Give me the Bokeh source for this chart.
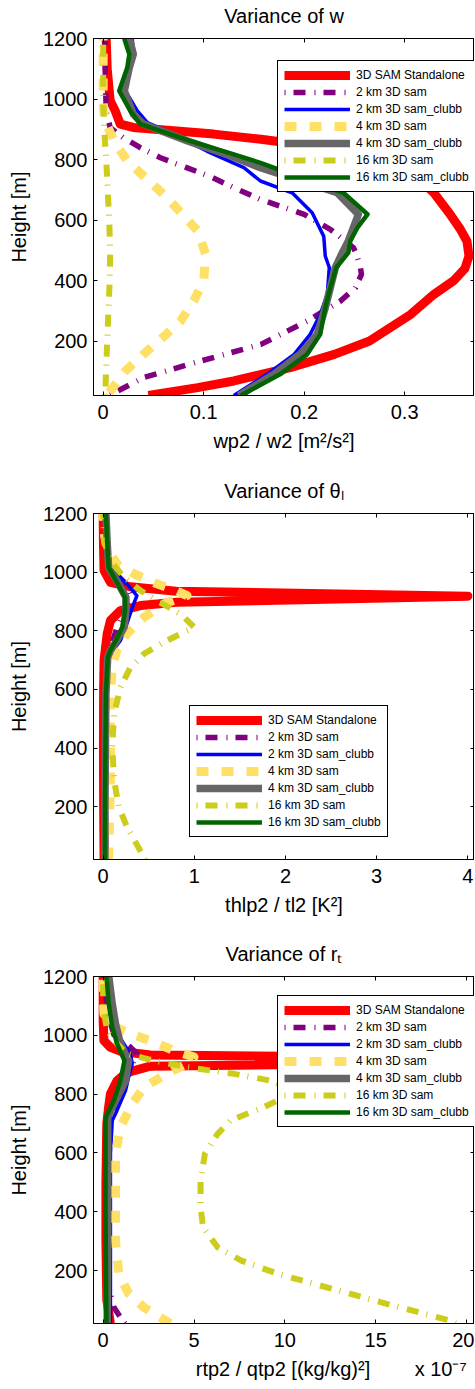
from bokeh.plotting import figure
from bokeh.models import LinearAxis, FixedTicker, Range1d, Legend, LegendItem
from bokeh.layouts import column
from bokeh.embed import file_html
from bokeh.resources import INLINE

FONT = "Liberation Sans"

series_labels = ["3D SAM Standalone", "2 km 3D sam", "2 km 3D sam_clubb",
                 "4 km 3D sam", "4 km 3D sam_clubb", "16 km 3D sam",
                 "16 km 3D sam_clubb"]

# ---------------- Panel 1: wp2 / w2 [m2/s2] ----------------
wp2_sam_z = [20, 46, 68, 112, 156, 200, 288, 354, 400, 440, 481, 530, 569, 620, 690, 750, 800, 840, 867, 884, 895, 906, 917, 961, 994, 1100, 1200]
wp2_sam = [0.045, 0.094, 0.13, 0.186, 0.23, 0.265, 0.306, 0.329, 0.349, 0.36, 0.364, 0.362, 0.3555, 0.345, 0.329, 0.31, 0.28, 0.22, 0.157, 0.11, 0.07, 0.03, 0.017, 0.012, 0.007, 0.004, 0.003]
wp2_2km_z = [22, 79, 134, 189, 266, 332, 376, 420, 443, 487, 509, 569, 619, 668, 707, 746, 773, 806, 839, 872, 905, 960, 1100, 1200]
wp2_2km = [0.007, 0.04, 0.097, 0.157, 0.203, 0.236, 0.251, 0.257, 0.256, 0.252, 0.249, 0.226, 0.2, 0.1565, 0.13, 0.105, 0.083, 0.057, 0.037, 0.02, 0.007, 0.003, 0.002, 0.002]
wp2_2kmc_z = [20, 90, 156, 222, 288, 354, 443, 481, 546, 624, 690, 729, 773, 828, 884, 922, 961, 1005, 1032, 1104, 1148, 1200]
wp2_2kmc = [0.13, 0.163, 0.19, 0.206, 0.216, 0.223, 0.225, 0.221, 0.2195, 0.208, 0.188, 0.1565, 0.14, 0.103, 0.07, 0.044, 0.034, 0.026, 0.021, 0.027, 0.03, 0.029]
wp2_4km_z = [30, 101, 156, 211, 266, 332, 398, 487, 564, 619, 685, 740, 795, 861, 933, 1000, 1200]
wp2_4km = [0.006, 0.022, 0.04, 0.059, 0.077, 0.09, 0.1, 0.102, 0.094, 0.079, 0.06, 0.042, 0.024, 0.011, 0.001, 0.0, 0.0]
wp2_4kmc_z = [20, 90, 156, 222, 310, 376, 443, 492, 531, 575, 619, 690, 773, 817, 861, 917, 950, 1027, 1104, 1148, 1200]
wp2_4kmc = [0.135, 0.17, 0.196, 0.213, 0.221, 0.226, 0.231, 0.238, 0.244, 0.249, 0.254, 0.233, 0.1565, 0.123, 0.084, 0.04, 0.03, 0.021, 0.026, 0.03, 0.026]
wp2_16km_z = [20, 200, 400, 500, 600, 800, 900, 1000, 1200]
wp2_16km = [0.002, 0.004, 0.0065, 0.007, 0.006, 0.003, 0.001, 0.0, 0.0]
wp2_16kmc_z = [20, 90, 156, 222, 310, 376, 443, 492, 531, 575, 619, 690, 789, 817, 861, 917, 961, 1027, 1104, 1148, 1200]
wp2_16kmc = [0.137, 0.176, 0.203, 0.216, 0.221, 0.226, 0.232, 0.244, 0.246, 0.253, 0.263, 0.239, 0.1565, 0.13, 0.087, 0.037, 0.027, 0.016, 0.024, 0.026, 0.021]

# ---------------- Panel 2: thlp2 / tl2 [K2] ----------------
tl2_sam_z = [20, 200, 400, 600, 700, 790, 835, 869, 886, 897, 918, 935, 950, 965, 1005, 1100, 1200]
tl2_sam = [0.01, 0.005, 0.003, 0.005, 0.01, 0.044, 0.08, 0.19, 0.41, 0.8, 4.0, 0.8, 0.3, 0.08, 0.01, 0.003, 0.0]
tl2_2km_z = [20, 200, 400, 600, 700, 760, 810, 860, 920, 960, 1000, 1050, 1200]
tl2_2km = [0.02, 0.02, 0.02, 0.03, 0.05, 0.1, 0.15, 0.22, 0.3, 0.25, 0.12, 0.05, 0.02]
tl2_2kmc_z = [20, 200, 400, 585, 699, 722, 767, 824, 880, 920, 960, 994, 1028, 1096, 1200]
tl2_2kmc = [0.03, 0.03, 0.035, 0.04, 0.06, 0.08, 0.19, 0.26, 0.32, 0.37, 0.26, 0.15, 0.06, 0.045, 0.03]
tl2_4km_z = [20, 300, 585, 676, 733, 790, 846, 892, 920, 937, 960, 994, 1028, 1084, 1152, 1200]
tl2_4km = [0.06, 0.08, 0.08, 0.1, 0.15, 0.26, 0.45, 0.67, 0.92, 0.8, 0.59, 0.34, 0.15, 0.04, 0.0, 0.0]
tl2_4kmc_z = [20, 200, 400, 585, 710, 733, 767, 812, 869, 914, 971, 1016, 1096, 1200]
tl2_4kmc = [0.02, 0.02, 0.025, 0.03, 0.05, 0.08, 0.15, 0.23, 0.25, 0.25, 0.15, 0.06, 0.045, 0.03]
tl2_16km_z = [20, 132, 200, 291, 404, 517, 608, 676, 722, 767, 812, 857, 903, 937, 982, 1039, 1107, 1200]
tl2_16km = [0.46, 0.26, 0.17, 0.12, 0.1, 0.12, 0.19, 0.3, 0.45, 0.7, 1.0, 0.85, 0.59, 0.41, 0.23, 0.08, 0.01, 0.0]
tl2_16kmc_z = [20, 200, 400, 585, 710, 733, 767, 812, 869, 914, 971, 1016, 1096, 1200]
tl2_16kmc = [0.02, 0.02, 0.025, 0.03, 0.05, 0.08, 0.14, 0.21, 0.24, 0.24, 0.14, 0.06, 0.045, 0.03]

# ---------------- Panel 3: rtp2 / qtp2 [(kg/kg)2], in units of 1e-7 ----------------
qt_sam_z = [20, 100, 300, 500, 700, 755, 801, 846, 869, 880, 895, 902, 915, 928, 933, 945, 959, 982, 1050, 1200]
qt_sam = [0.4, 0.2, 0.15, 0.15, 0.2, 0.3, 0.4, 0.77, 1.2, 1.7, 2.6, 12.0, 14.0, 12.0, 2.6, 1.0, 0.4, 0.04, 0.0, 0.0]
qt_2km_z = [20, 41, 75, 143, 300, 700, 800, 900, 937, 960, 1000, 1080, 1200]
qt_2km = [1.2, 0.95, 0.59, 0.31, 0.25, 0.3, 0.9, 1.6, 1.87, 1.5, 0.6, 0.22, 0.1]
qt_2kmc_z = [20, 370, 597, 710, 733, 812, 858, 903, 937, 971, 1016, 1073, 1200]
qt_2kmc = [0.4, 0.4, 0.4, 0.5, 0.68, 1.23, 1.4, 1.6, 1.5, 1.14, 0.68, 0.4, 0.22]
qt_4km_z = [20, 75, 121, 189, 302, 483, 597, 688, 767, 823, 869, 903, 926, 948, 982, 1005, 1028, 1073, 1164, 1200]
qt_4km = [3.7, 2.24, 1.41, 0.86, 0.68, 0.68, 0.68, 0.95, 1.6, 2.24, 3.5, 4.6, 5.0, 3.9, 2.6, 1.5, 0.68, 0.04, 0.0, 0.0]
qt_4kmc_z = [20, 300, 600, 722, 778, 846, 914, 971, 1039, 1107, 1200]
qt_4kmc = [0.22, 0.25, 0.25, 0.25, 0.68, 1.23, 1.4, 0.95, 0.68, 0.5, 0.31]
qt_16km_z = [20, 30, 87, 143, 189, 234, 279, 347, 415, 506, 597, 665, 710, 755, 778, 810, 846, 869, 892, 914, 937, 971, 1016, 1096, 1200]
qt_16km = [19.4, 19.1, 15.6, 12.3, 9.6, 7.6, 6.3, 5.5, 5.36, 5.36, 5.6, 6.3, 7.0, 8.8, 9.6, 10.5, 9.2, 7.2, 4.6, 2.8, 1.3, 0.77, 0.22, 0.0, 0.0]
qt_16kmc_z = [20, 400, 710, 722, 778, 846, 914, 971, 1028, 1107, 1200]
qt_16kmc = [0.18, 0.13, 0.13, 0.15, 0.59, 0.95, 1.17, 0.77, 0.5, 0.31, 0.18]

# ---------------- ticks ----------------
y_ticks = [200, 400, 600, 800, 1000, 1200]
wp2_ticks = [0, 0.1, 0.2, 0.3]
wp2_tick_labels = ["0", "0.1", "0.2", "0.3"]
tl2_ticks = [0, 1, 2, 3, 4]
tl2_tick_labels = ["0", "1", "2", "3", "4"]
qt_ticks = [0, 5, 10, 15, 20]
qt_tick_labels = ["0", "5", "10", "15", "20"]
qt_xlabel = "rtp2 / qtp2 [(kg/kg)²]"
qt_multiplier = "x 10⁻⁷"

STYLES = [
    dict(color="#FF0000", width=9, dash="solid"),
    dict(color="#800080", width=5.5, dash="1 8 12 9"),
    dict(color="#0000FF", width=3.5, dash="solid"),
    dict(color="#FFE066", width=9, dash="12 13"),
    dict(color="#666666", width=7.5, dash="solid"),
    dict(color="#CCCC1A", width=6, dash="1 8 12 9"),
    dict(color="#006400", width=4.5, dash="solid"),
]

NBSP = "\u00a0"


def text_style(ax):
    ax.axis_label_text_font = FONT
    ax.axis_label_text_font_size = "20px"
    ax.axis_label_text_font_style = "normal"
    ax.axis_label_text_color = "black"


def make_panel(title, xlabel, xr, xticks, xtick_labels, zs, xs, legend_xy,
               frame_h, border_bottom):
    p = figure(title=None, frame_width=381, frame_height=frame_h,
               x_range=Range1d(*xr), y_range=Range1d(20, 1200),
               output_backend="svg", toolbar_location=None,
               min_border_left=93, min_border_right=0, min_border_top=38,
               min_border_bottom=border_bottom)
    p.background_fill_color = "white"
    p.border_fill_color = "white"
    p.outline_line_color = "black"
    p.outline_line_width = 1
    p.xgrid.visible = False
    p.ygrid.visible = False

    xa = p.xaxis[0]
    ya = p.yaxis[0]
    xa.ticker = FixedTicker(ticks=xticks)
    xa.major_label_overrides = {t: l for t, l in zip(xticks, xtick_labels)}
    ya.ticker = FixedTicker(ticks=y_ticks)
    xa.axis_label = xlabel
    ya.axis_label = "Height [m]"
    for ax, st in ((xa, 9), (ya, 6)):
        ax.major_label_text_font = FONT
        ax.major_label_text_font_size = "20px"
        ax.major_label_text_color = "black"
        text_style(ax)
        ax.major_tick_in = 4
        ax.major_tick_out = 0
        ax.minor_tick_line_color = None
        ax.axis_line_color = "black"
        ax.major_tick_line_color = "black"
        ax.major_label_standoff = st
    xa.axis_label_standoff = 8
    ya.axis_label_standoff = 10

    # top axis: inward ticks, carries the panel title as its label
    top = LinearAxis(ticker=FixedTicker(ticks=xticks),
                     major_label_text_font_size="1px",
                     major_label_text_color=None, major_label_standoff=0,
                     major_tick_in=4, major_tick_out=0,
                     minor_tick_line_color=None, axis_line_color="black",
                     axis_label=title, axis_label_standoff=12)
    text_style(top)
    right = LinearAxis(ticker=FixedTicker(ticks=y_ticks),
                       major_label_text_font_size="1px",
                       major_label_text_color=None, major_label_standoff=0,
                       major_tick_in=4, major_tick_out=0,
                       minor_tick_line_color=None, axis_line_color="black")
    p.add_layout(top, "above")
    p.add_layout(right, "right")

    rends = []
    for z, x, st in zip(zs, xs, STYLES):
        r = p.line(x, z, line_color=st["color"], line_width=st["width"],
                   line_dash=st["dash"], line_join="round")
        rends.append(r)

    legend = Legend(items=[LegendItem(label=l, renderers=[r]) for l, r in zip(series_labels, rends)],
                    location=legend_xy, glyph_width=66, glyph_height=16,
                    label_height=16, spacing=1, padding=6, margin=0,
                    label_standoff=6, label_text_font=FONT,
                    label_text_font_size="12px", label_text_color="black",
                    border_line_color="black", border_line_width=1,
                    border_line_alpha=1, background_fill_color="white",
                    background_fill_alpha=1)
    p.add_layout(legend)
    return p


p1 = make_panel("Variance of w", "wp2 / w2 [m²/s²]", (-0.00962, 0.3695),
                wp2_ticks, wp2_tick_labels,
                [wp2_sam_z, wp2_2km_z, wp2_2kmc_z, wp2_4km_z, wp2_4kmc_z, wp2_16km_z, wp2_16kmc_z],
                [wp2_sam, wp2_2km, wp2_2kmc, wp2_4km, wp2_4kmc, wp2_16km, wp2_16kmc],
                (184, 203), 357, 80)

p2 = make_panel("Variance of θₗ", "thlp2 / tl2 [K²]", (-0.106, 4.073),
                tl2_ticks, tl2_tick_labels,
                [tl2_sam_z, tl2_2km_z, tl2_2kmc_z, tl2_4km_z, tl2_4kmc_z, tl2_16km_z, tl2_16kmc_z],
                [tl2_sam, tl2_2km, tl2_2kmc, tl2_4km, tl2_4kmc, tl2_16km, tl2_16kmc],
                (96, 22), 346, 79)

# panel 3: the x label and its "x 10^-7" multiplier share one row
p3 = make_panel("Variance of rₜ",
                NBSP * 17 + qt_xlabel + NBSP * 8 + qt_multiplier,
                (-0.532, 20.437),
                qt_ticks, qt_tick_labels,
                [qt_sam_z, qt_2km_z, qt_2kmc_z, qt_4km_z, qt_4kmc_z, qt_16km_z, qt_16kmc_z],
                [qt_sam, qt_2km, qt_2kmc, qt_4km, qt_4kmc, qt_16km, qt_16kmc],
                (184, 196), 347, 64)

layout = column(p1, p2, p3, spacing=0)
open("out.html", "w").write(file_html(layout, INLINE))
